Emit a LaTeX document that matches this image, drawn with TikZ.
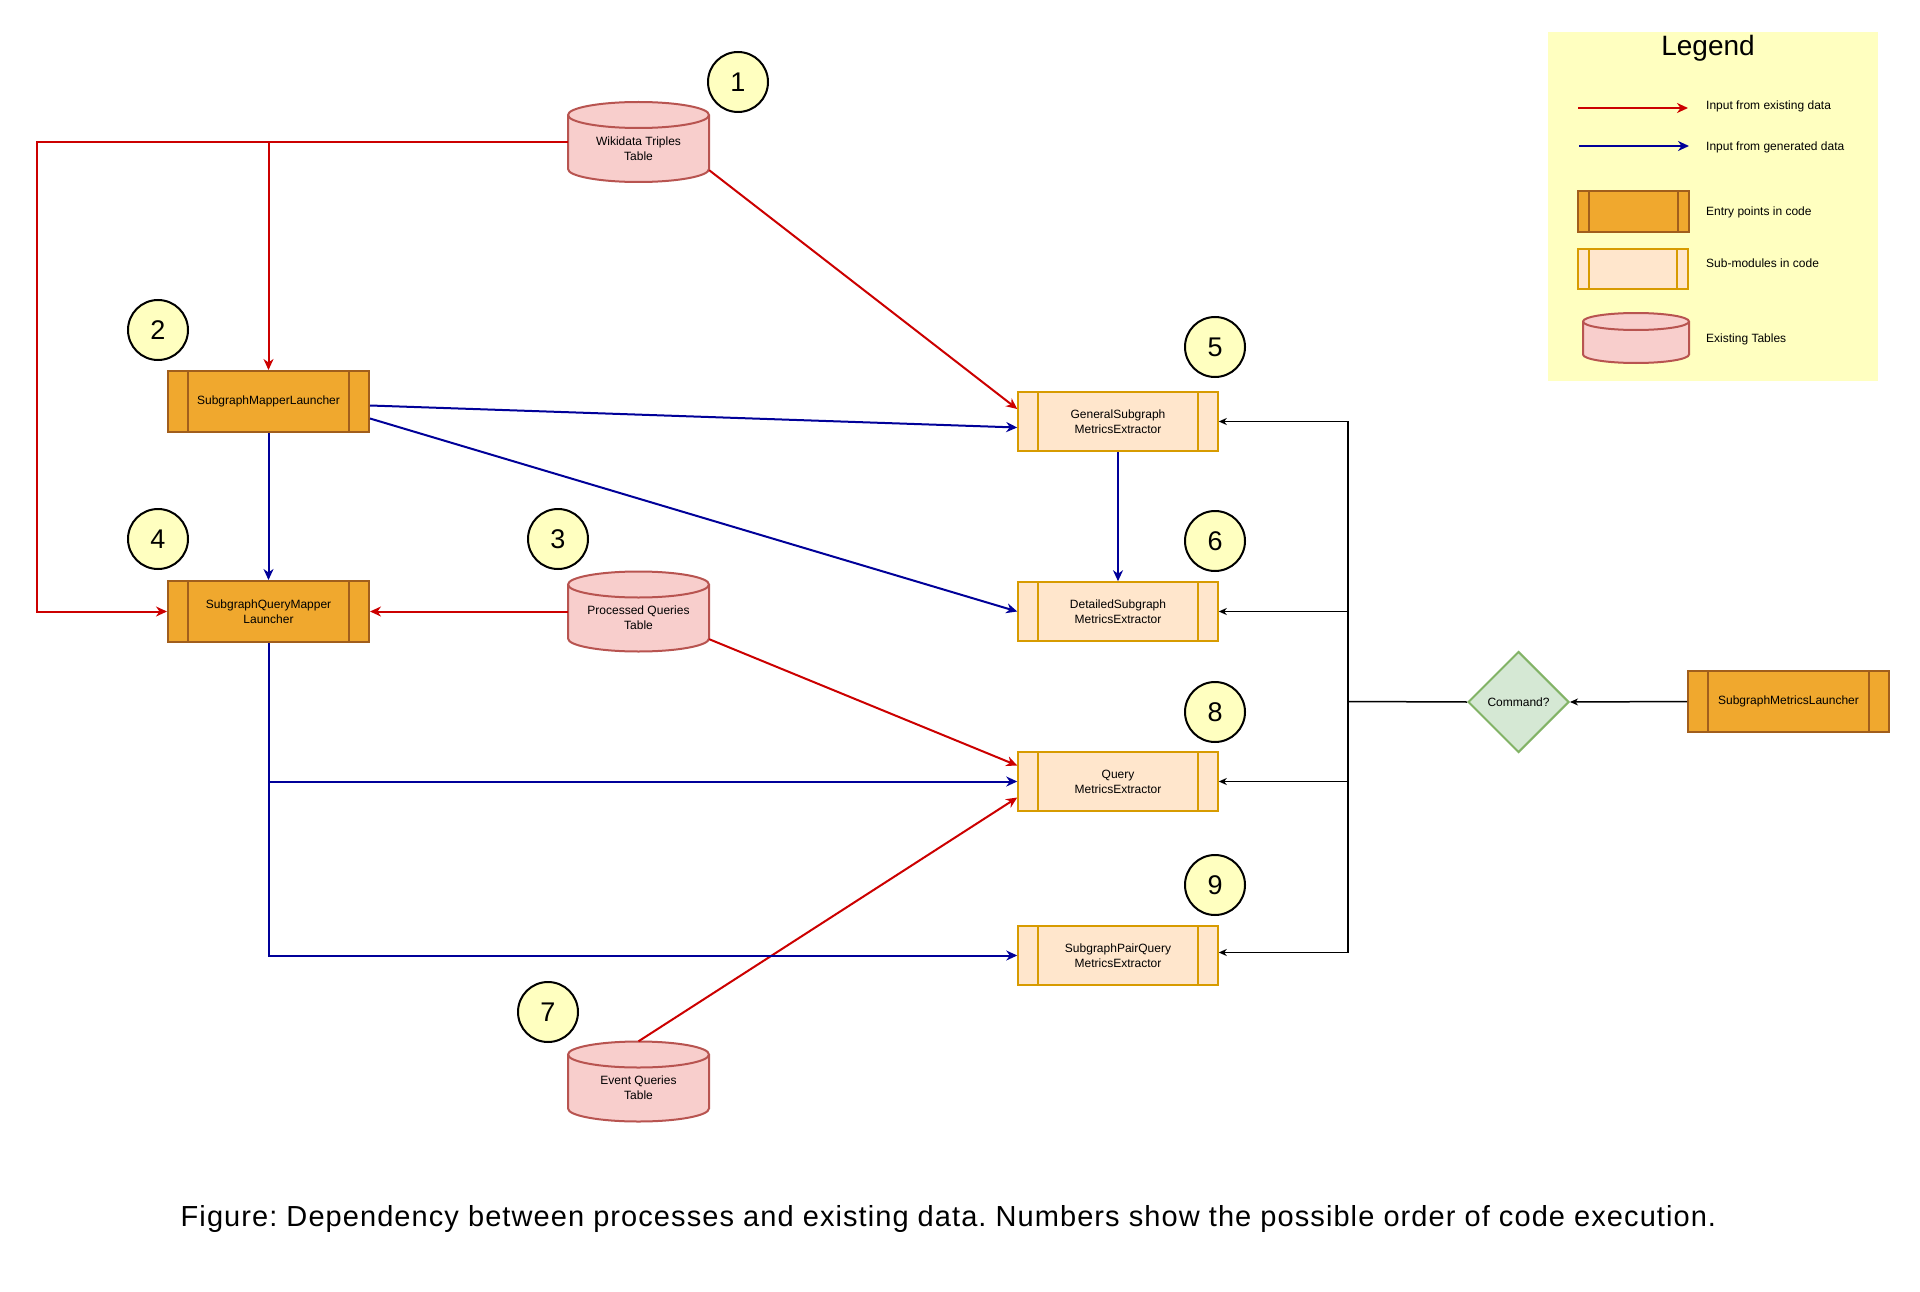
\documentclass[tikz,border=0pt]{standalone}
\usepackage{fontspec}
\setmainfont{Liberation Sans}
\usetikzlibrary{arrows.meta,shapes.geometric,calc}

\definecolor{entryfill}{HTML}{F0A82E}
\definecolor{entrydraw}{HTML}{A15E1C}
\definecolor{subfill}{HTML}{FFE6CC}
\definecolor{subdraw}{HTML}{D79B00}
\definecolor{tabfill}{HTML}{F8CECC}
\definecolor{tabdraw}{HTML}{B85450}
\definecolor{decfill}{HTML}{D5E8D4}
\definecolor{decdraw}{HTML}{82B366}
\definecolor{notefill}{HTML}{FFFFC0}
\definecolor{existred}{HTML}{CC0000}
\definecolor{genblue}{HTML}{000099}

\tikzset{
  every node/.style={font=\fontsize{12}{15}\selectfont, align=center, inner sep=0pt},
  bars/.style 2 args={path picture={\draw[#1]
      ([xshift=#2]path picture bounding box.north west) -- ([xshift=#2]path picture bounding box.south west)
      ([xshift=-#2]path picture bounding box.north east) -- ([xshift=-#2]path picture bounding box.south east);}},
  entry/.style={rectangle, draw=entrydraw, fill=entryfill, line width=2pt,
      minimum width=201pt, minimum height=61pt, bars={entrydraw,line width=2pt}{20pt}},
  submod/.style={rectangle, draw=subdraw, fill=subfill, line width=1.5pt,
      minimum width=200pt, minimum height=59pt, bars={subdraw,line width=1.5pt}{20pt}},
  decision/.style={diamond, aspect=1, draw=decdraw, fill=decfill, line width=2pt,
      minimum width=101pt, minimum height=101pt},
  order/.style={circle, draw=black, fill=notefill, line width=2pt, minimum size=60pt,
      font=\fontsize{27}{30}\selectfont},
  tablebody/.style={draw=tabdraw, fill=tabfill, line width=2pt},
  existing/.style={draw=existred, line width=2pt, -{Stealth[length=11pt,width=10pt,inset=3.5pt]}},
  generated/.style={draw=genblue, line width=2pt, -{Stealth[length=11pt,width=10pt,inset=3.5pt]}},
  control/.style={draw=black, line width=1.5pt, -{Stealth[length=8pt,width=7pt,inset=2.5pt]}},
  controlline/.style={draw=black, line width=1.5pt},
  legendtext/.style={anchor=base west},
}

% cylinder for a table: name, cx, cy, width, height, ellipse radius
\newcommand\tablecyl[6]{%
  \pgfmathsetmacro\cylL{#2-#4/2}%
  \pgfmathsetmacro\cylR{#2+#4/2}%
  \pgfmathsetmacro\cylT{#3+#5/2-#6}%
  \pgfmathsetmacro\cylB{#3-#5/2+#6}%
  \pgfmathsetmacro\cylRX{#4/2}%
  \filldraw[tablebody] (\cylL,\cylT) -- (\cylL,\cylB)
     arc[start angle=180,end angle=360,x radius=\cylRX pt,y radius=#6pt]
     -- (\cylR,\cylT)
     arc[start angle=0,end angle=180,x radius=\cylRX pt,y radius=#6pt] -- cycle;
  \draw[tablebody,fill=none] (\cylL,\cylT)
     arc[start angle=180,end angle=360,x radius=\cylRX pt,y radius=#6pt];
  \node[minimum width=#4pt, minimum height=#5pt] (#1) at (#2,#3) {};
}

\begin{document}
\frenchspacing
\begin{tikzpicture}[x=1pt,y=1pt]
\useasboundingbox (0,0) rectangle (1920,-1292);
\fill[white] (0,0) rectangle (1920,-1292);

% ---------- legend ----------
\fill[notefill] (1548,-32) rectangle (1878,-381);
\node[font=\fontsize{28}{32}\selectfont] (legendtitle) at (1708,-48) {Legend};
\coordinate (lgreda) at (1578,-108);
\coordinate (lgredb) at (1688,-108);
\draw[existing] (lgreda) -- (lgredb);
\node[legendtext] (lgredtext) at (1706,-110) {Input from existing data};
\coordinate (lgbluea) at (1579,-146);
\coordinate (lgblueb) at (1689,-146);
\draw[generated] (lgbluea) -- (lgblueb);
\node[legendtext] (lgbluetext) at (1706,-151) {Input from generated data};
\node[entry, minimum width=111pt, minimum height=41pt, bars={entrydraw,line width=2pt}{11pt}] (lgentry) at (1633.5,-211.5) {};
\node[legendtext] (lgentrytext) at (1706,-216) {Entry points in code};
\node[submod, minimum width=110pt, minimum height=40pt, bars={subdraw,line width=1.5pt}{11pt}] (lgsub) at (1633,-269) {};
\node[legendtext] (lgsubtext) at (1706,-268) {Sub-modules in code};
\tablecyl{lgtable}{1636}{-338}{106}{50}{8.5}
\node[legendtext] (lgtabletext) at (1706,-342) {Existing Tables};

% ---------- tables ----------
\tablecyl{wd}{638.5}{-142}{141}{80}{13}
\node (wdtext) at (638.5,-148.5) {Wikidata Triples\\Table};
\tablecyl{pq}{638.5}{-611.5}{141}{80}{13}
\node (pqtext) at (638.5,-618) {Processed Queries\\Table};
\tablecyl{eq}{638.5}{-1081.5}{141}{80}{13}
\node (eqtext) at (638.5,-1088) {Event Queries\\Table};

% ---------- entry points ----------
\node[entry] (sml) at (268.5,-401.5) {SubgraphMapperLauncher};
\node[entry] (sqml) at (268.5,-611.5) {SubgraphQueryMapper\\Launcher};
\node[entry] (smetl) at (1788.5,-701.5) {SubgraphMetricsLauncher};

% ---------- sub-modules ----------
\node[submod] (gen) at (1118,-421.5) {GeneralSubgraph\\MetricsExtractor};
\node[submod] (det) at (1118,-611.5) {DetailedSubgraph\\MetricsExtractor};
\node[submod] (qry) at (1118,-781.5) {Query\\MetricsExtractor};
\node[submod] (pair) at (1118,-955.5) {SubgraphPairQuery\\MetricsExtractor};

% ---------- command switch ----------
\node[decision] (cmd) at (1518.5,-702) {Command?};
\coordinate (bus) at (1348,-701.5);

% ---------- execution order ----------
\node[order] (o1) at (738,-82) {1};
\node[order] (o2) at (158,-330) {2};
\node[order] (o3) at (558,-539) {3};
\node[order] (o4) at (158,-539) {4};
\node[order] (o5) at (1215,-347) {5};
\node[order] (o6) at (1215,-541) {6};
\node[order] (o7) at (548,-1012) {7};
\node[order] (o8) at (1215,-712) {8};
\node[order] (o9) at (1215,-885) {9};

% ---------- connectors: existing data ----------
\draw[existing] (wd.west) -| (sml.north);
\draw[existing] (wd.west) -| ([xshift=-130pt]sqml.west) -- (sqml.west);
\draw[existing] ([yshift=12pt]wd.south east) -- ([yshift=12.5pt]gen.west);
\draw[existing] (pq.west) -- (sqml.east);
\draw[existing] ([yshift=12.5pt]pq.south east) -- ([yshift=16pt]qry.west);
\draw[existing] (eq.north) -- ([yshift=-16pt]qry.west);

% ---------- connectors: generated data ----------
\draw[generated] ([yshift=-4pt]sml.east) -- ([yshift=-6pt]gen.west);
\draw[generated] ([yshift=-17pt]sml.east) -- (det.west);
\draw[generated] (sml.south) -- (sqml.north);
\draw[generated] (sqml.south) |- (qry.west);
\draw[generated] (sqml.south) |- (pair.west);
\draw[generated] (gen.south) -- (det.north);

% ---------- connectors: command dispatch ----------
\draw[control] (smetl.west) -- (cmd.east);
\draw[controlline] (cmd.west) -- (bus);
\draw[control] (bus) |- (gen.east);
\draw[control] (bus) |- (det.east);
\draw[control] (bus) |- (qry.east);
\draw[control] (bus) |- ([yshift=3pt]pair.east);

% ---------- caption ----------
\node[font=\fontsize{29}{34}\selectfont\addfontfeature{LetterSpace=3.7}] (caption) at (948.5,-1219)
  {Figure: Dependency between processes and existing data. Numbers show the possible order of code execution.};
\end{tikzpicture}
\end{document}
